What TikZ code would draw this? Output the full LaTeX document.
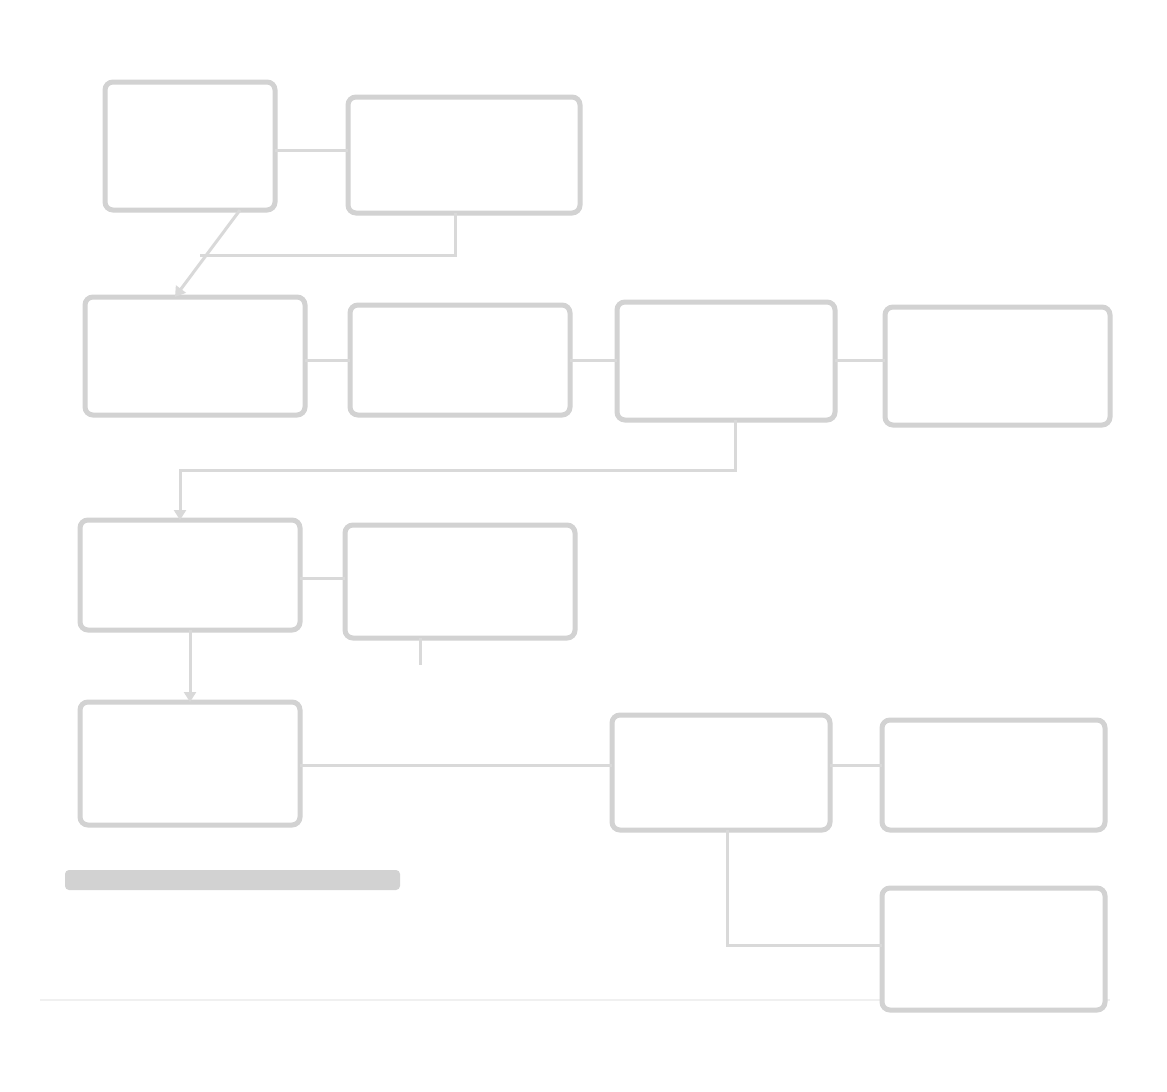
\documentclass[tikz,border=0pt]{standalone}
\usetikzlibrary{arrows.meta}
\begin{document}
\begin{tikzpicture}[x=1pt,y=-1pt,
  box/.style={draw=gray!35,line width=5pt,rounded corners=8pt,fill=white},
  conn/.style={draw=gray!30,line width=3pt},
  arr/.style={conn,-{Triangle[length=10pt,width=12pt]}}]
\useasboundingbox[fill=white] (0,0) rectangle (1167,1092);
% faint rule at the bottom (under the boxes)
\coordinate (rl) at (40,1000); \coordinate (rr) at (1110,1000);
\draw[draw=gray!12,line width=2pt] (rl) -- (rr);
% row 1
\path[box] (105,82) rectangle (275,210);
\path[box] (348,97) rectangle (580,213);
% row 2
\path[box] (85,297) rectangle (305,415);
\path[box] (350,305) rectangle (570,415);
\path[box] (617,302) rectangle (835,420);
\path[box] (885,307) rectangle (1110,425);
% row 3
\path[box] (80,520) rectangle (300,630);
\path[box] (345,525) rectangle (575,638);
% row 4
\path[box] (80,702) rectangle (300,825);
\path[box] (612,715) rectangle (830,830);
\path[box] (882,720) rectangle (1105,830);
\path[box] (882,888) rectangle (1105,1010);
% named anchors for connectors
\coordinate (Ar) at (275,150); \coordinate (Bl) at (348,150);
\coordinate (Bb) at (455,213); \coordinate (Cb1) at (200,255);
\coordinate (Ab) at (240,210); \coordinate (Ct) at (175,297);
\coordinate (Cr) at (305,360); \coordinate (Dl) at (350,360);
\coordinate (Dr) at (570,360); \coordinate (El) at (617,360);
\coordinate (Er) at (835,360); \coordinate (Fl) at (885,360);
\coordinate (Eb) at (735,420); \coordinate (Gt) at (180,520);
\coordinate (Gr) at (300,578); \coordinate (Hl) at (345,578);
\coordinate (Hb) at (420,638); \coordinate (Hx) at (420,665);
\coordinate (Gb) at (190,630); \coordinate (It) at (190,702);
\coordinate (Ir) at (300,765); \coordinate (Jl) at (612,765);
\coordinate (Jr) at (830,765); \coordinate (Kl) at (882,765);
\coordinate (Jb) at (727,830); \coordinate (Ll) at (882,945);
% connectors
\draw[conn] (Ar) -- (Bl);
\draw[conn] (Bb) -- (455,255) -- (Cb1);
\draw[arr] (Ab) -- (Ct);
\draw[conn] (Cr) -- (Dl);
\draw[conn] (Dr) -- (El);
\draw[conn] (Er) -- (Fl);
\draw[arr] (Eb) -- (735,470) -- (180,470) -- (Gt);
\draw[conn] (Gr) -- (Hl);
\draw[conn] (Hb) -- (Hx);
\draw[arr] (Gb) -- (It);
\draw[conn] (Ir) -- (Jl);
\draw[conn] (Jr) -- (Kl);
\draw[conn] (Jb) -- (727,945) -- (Ll);
% bold caption bar
\fill[gray!35,rounded corners=4pt] (65,870) rectangle (400,890);
\end{tikzpicture}
\end{document}
